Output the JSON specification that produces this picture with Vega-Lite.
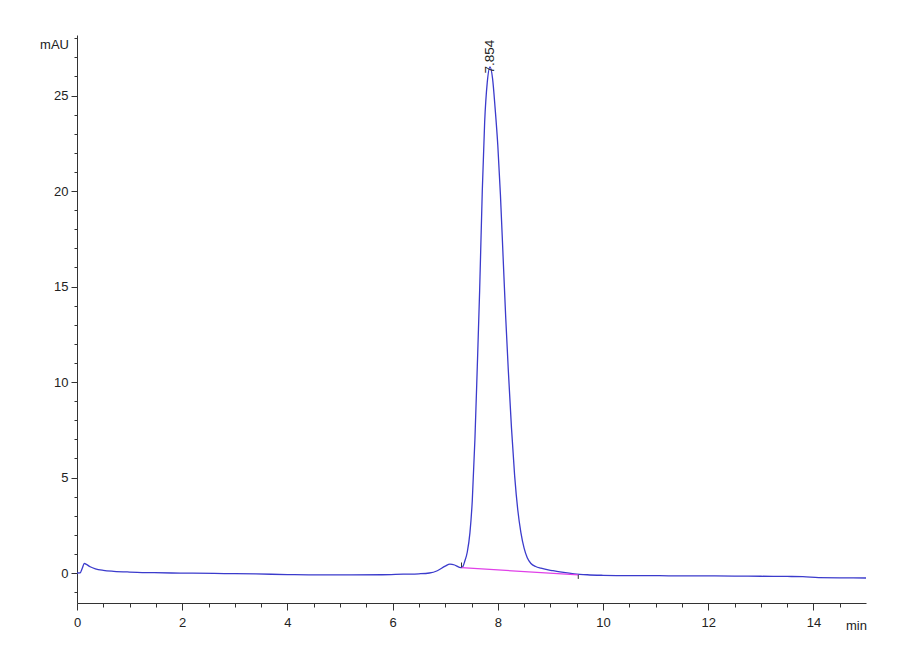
{
  "$schema": "https://vega.github.io/schema/vega-lite/v6.json",
  "description": "HPLC chromatogram, single peak at 7.854 min.",
  "width": 789,
  "height": 568,
  "autosize": "none",
  "padding": {"left": 77, "top": 35, "right": 34, "bottom": 57},
  "datasets": {
    "trace": [
      {"t": 0.0, "v": 0.0}, {"t": 0.06, "v": 0.01}, {"t": 0.1, "v": 0.25}, {"t": 0.14, "v": 0.5},
      {"t": 0.18, "v": 0.45}, {"t": 0.25, "v": 0.33}, {"t": 0.35, "v": 0.22}, {"t": 0.5, "v": 0.14},
      {"t": 0.7, "v": 0.09}, {"t": 1.0, "v": 0.05}, {"t": 1.4, "v": 0.02}, {"t": 1.8, "v": 0.0},
      {"t": 2.2, "v": -0.01}, {"t": 2.8, "v": -0.03}, {"t": 3.4, "v": -0.05}, {"t": 4.0, "v": -0.08},
      {"t": 4.6, "v": -0.1}, {"t": 5.2, "v": -0.1}, {"t": 5.8, "v": -0.09}, {"t": 6.2, "v": -0.06},
      {"t": 6.5, "v": -0.04}, {"t": 6.7, "v": 0.0}, {"t": 6.85, "v": 0.12}, {"t": 7.0, "v": 0.36},
      {"t": 7.09, "v": 0.47}, {"t": 7.18, "v": 0.42}, {"t": 7.27, "v": 0.3}, {"t": 7.31, "v": 0.28},
      {"t": 7.34, "v": 0.36}, {"t": 7.37, "v": 0.6}, {"t": 7.42, "v": 1.1}, {"t": 7.47, "v": 2.1},
      {"t": 7.515, "v": 3.8}, {"t": 7.565, "v": 7.0}, {"t": 7.61, "v": 10.8}, {"t": 7.655, "v": 14.8},
      {"t": 7.705, "v": 20.0}, {"t": 7.75, "v": 23.6}, {"t": 7.8, "v": 25.7}, {"t": 7.852, "v": 26.5},
      {"t": 7.9, "v": 25.9}, {"t": 7.95, "v": 24.3}, {"t": 8.0, "v": 22.4}, {"t": 8.05, "v": 19.8},
      {"t": 8.1, "v": 16.6}, {"t": 8.15, "v": 13.4}, {"t": 8.2, "v": 10.6}, {"t": 8.26, "v": 7.6},
      {"t": 8.32, "v": 5.1}, {"t": 8.38, "v": 3.3}, {"t": 8.44, "v": 2.1}, {"t": 8.5, "v": 1.3},
      {"t": 8.56, "v": 0.8}, {"t": 8.63, "v": 0.5}, {"t": 8.72, "v": 0.34},
      {"t": 8.82, "v": 0.25}, {"t": 9.05, "v": 0.12}, {"t": 9.25, "v": 0.03}, {"t": 9.45, "v": -0.04},
      {"t": 9.7, "v": -0.09}, {"t": 10.0, "v": -0.12}, {"t": 10.5, "v": -0.14}, {"t": 11.0, "v": -0.14},
      {"t": 11.5, "v": -0.15}, {"t": 12.0, "v": -0.15}, {"t": 12.5, "v": -0.16}, {"t": 13.0, "v": -0.17},
      {"t": 13.5, "v": -0.18}, {"t": 13.8, "v": -0.19}, {"t": 14.1, "v": -0.24}, {"t": 14.5, "v": -0.25},
      {"t": 15.0, "v": -0.26}
    ],
    "baseline": [
      {"t": 7.31, "v": 0.28}, {"t": 9.53, "v": -0.1}
    ],
    "ends": [
      {"t": 7.31, "v": 0.3, "v2": 0.55},
      {"t": 9.53, "v": -0.1, "v2": -0.31}
    ],
    "peaks": [
      {"t": 7.854, "v": 26.15, "label": "7.854"}
    ]
  },
  "encoding": {
    "x": {
      "field": "t",
      "type": "quantitative",
      "scale": {"domain": [0, 15], "nice": false, "zero": false},
      "axis": {
        "title": "min",
        "titleX": 779,
        "titleY": 22,
        "titleAlign": "center",
        "titleBaseline": "middle",
        "values": [0, 0.5, 1, 1.5, 2, 2.5, 3, 3.5, 4, 4.5, 5, 5.5, 6, 6.5, 7, 7.5, 8, 8.5, 9, 9.5, 10, 10.5, 11, 11.5, 12, 12.5, 13, 13.5, 14, 14.5],
        "labelExpr": "datum.value % 2 === 0 ? format(datum.value, 'd') : ''",
        "tickSize": {"condition": {"test": "datum.value % 2 === 0", "value": 7}, "value": 4},
        "labelPadding": 6,
        "labelOverlap": false,
        "labelFlush": false
      }
    },
    "y": {
      "field": "v",
      "type": "quantitative",
      "scale": {"domain": [-1.57, 28.17], "nice": false, "zero": false},
      "axis": {
        "title": "mAU",
        "titleAngle": 0,
        "titleX": -23,
        "titleY": 9,
        "titleAlign": "center",
        "titleBaseline": "middle",
        "values": [-1, 0, 1, 2, 3, 4, 5, 6, 7, 8, 9, 10, 11, 12, 13, 14, 15, 16, 17, 18, 19, 20, 21, 22, 23, 24, 25, 26, 27, 28],
        "labelExpr": "datum.value % 5 === 0 ? format(datum.value, 'd') : ''",
        "tickSize": {"condition": {"test": "datum.value % 5 === 0", "value": 6}, "value": 3},
        "labelPadding": 3,
        "labelOverlap": false,
        "labelFlush": false
      }
    }
  },
  "layer": [
    {
      "data": {"name": "trace"},
      "mark": {"type": "line", "color": "#3b3bcc", "strokeWidth": 1.3, "interpolate": "monotone"}
    },
    {
      "data": {"name": "baseline"},
      "mark": {"type": "line", "color": "#e040e8", "strokeWidth": 1.2}
    },
    {
      "data": {"name": "ends"},
      "mark": {"type": "rule", "color": "#333333", "strokeWidth": 1},
      "encoding": {"y2": {"field": "v2"}}
    },
    {
      "data": {"name": "peaks"},
      "mark": {"type": "text", "angle": 270, "align": "left", "baseline": "middle", "fontSize": 13.5, "color": "#222222", "font": "Liberation Sans"},
      "encoding": {"text": {"field": "label"}}
    }
  ],
  "config": {
    "view": {"stroke": null},
    "axis": {
      "grid": false,
      "domainColor": "#333333",
      "tickColor": "#333333",
      "labelColor": "#222222",
      "titleColor": "#222222",
      "labelFont": "Liberation Sans Narrow, Liberation Sans, sans-serif",
      "titleFont": "Liberation Sans Narrow, Liberation Sans, sans-serif",
      "labelFontSize": 13,
      "titleFontSize": 13,
      "titleFontWeight": "normal",
      "titlePadding": 0
    }
  }
}
